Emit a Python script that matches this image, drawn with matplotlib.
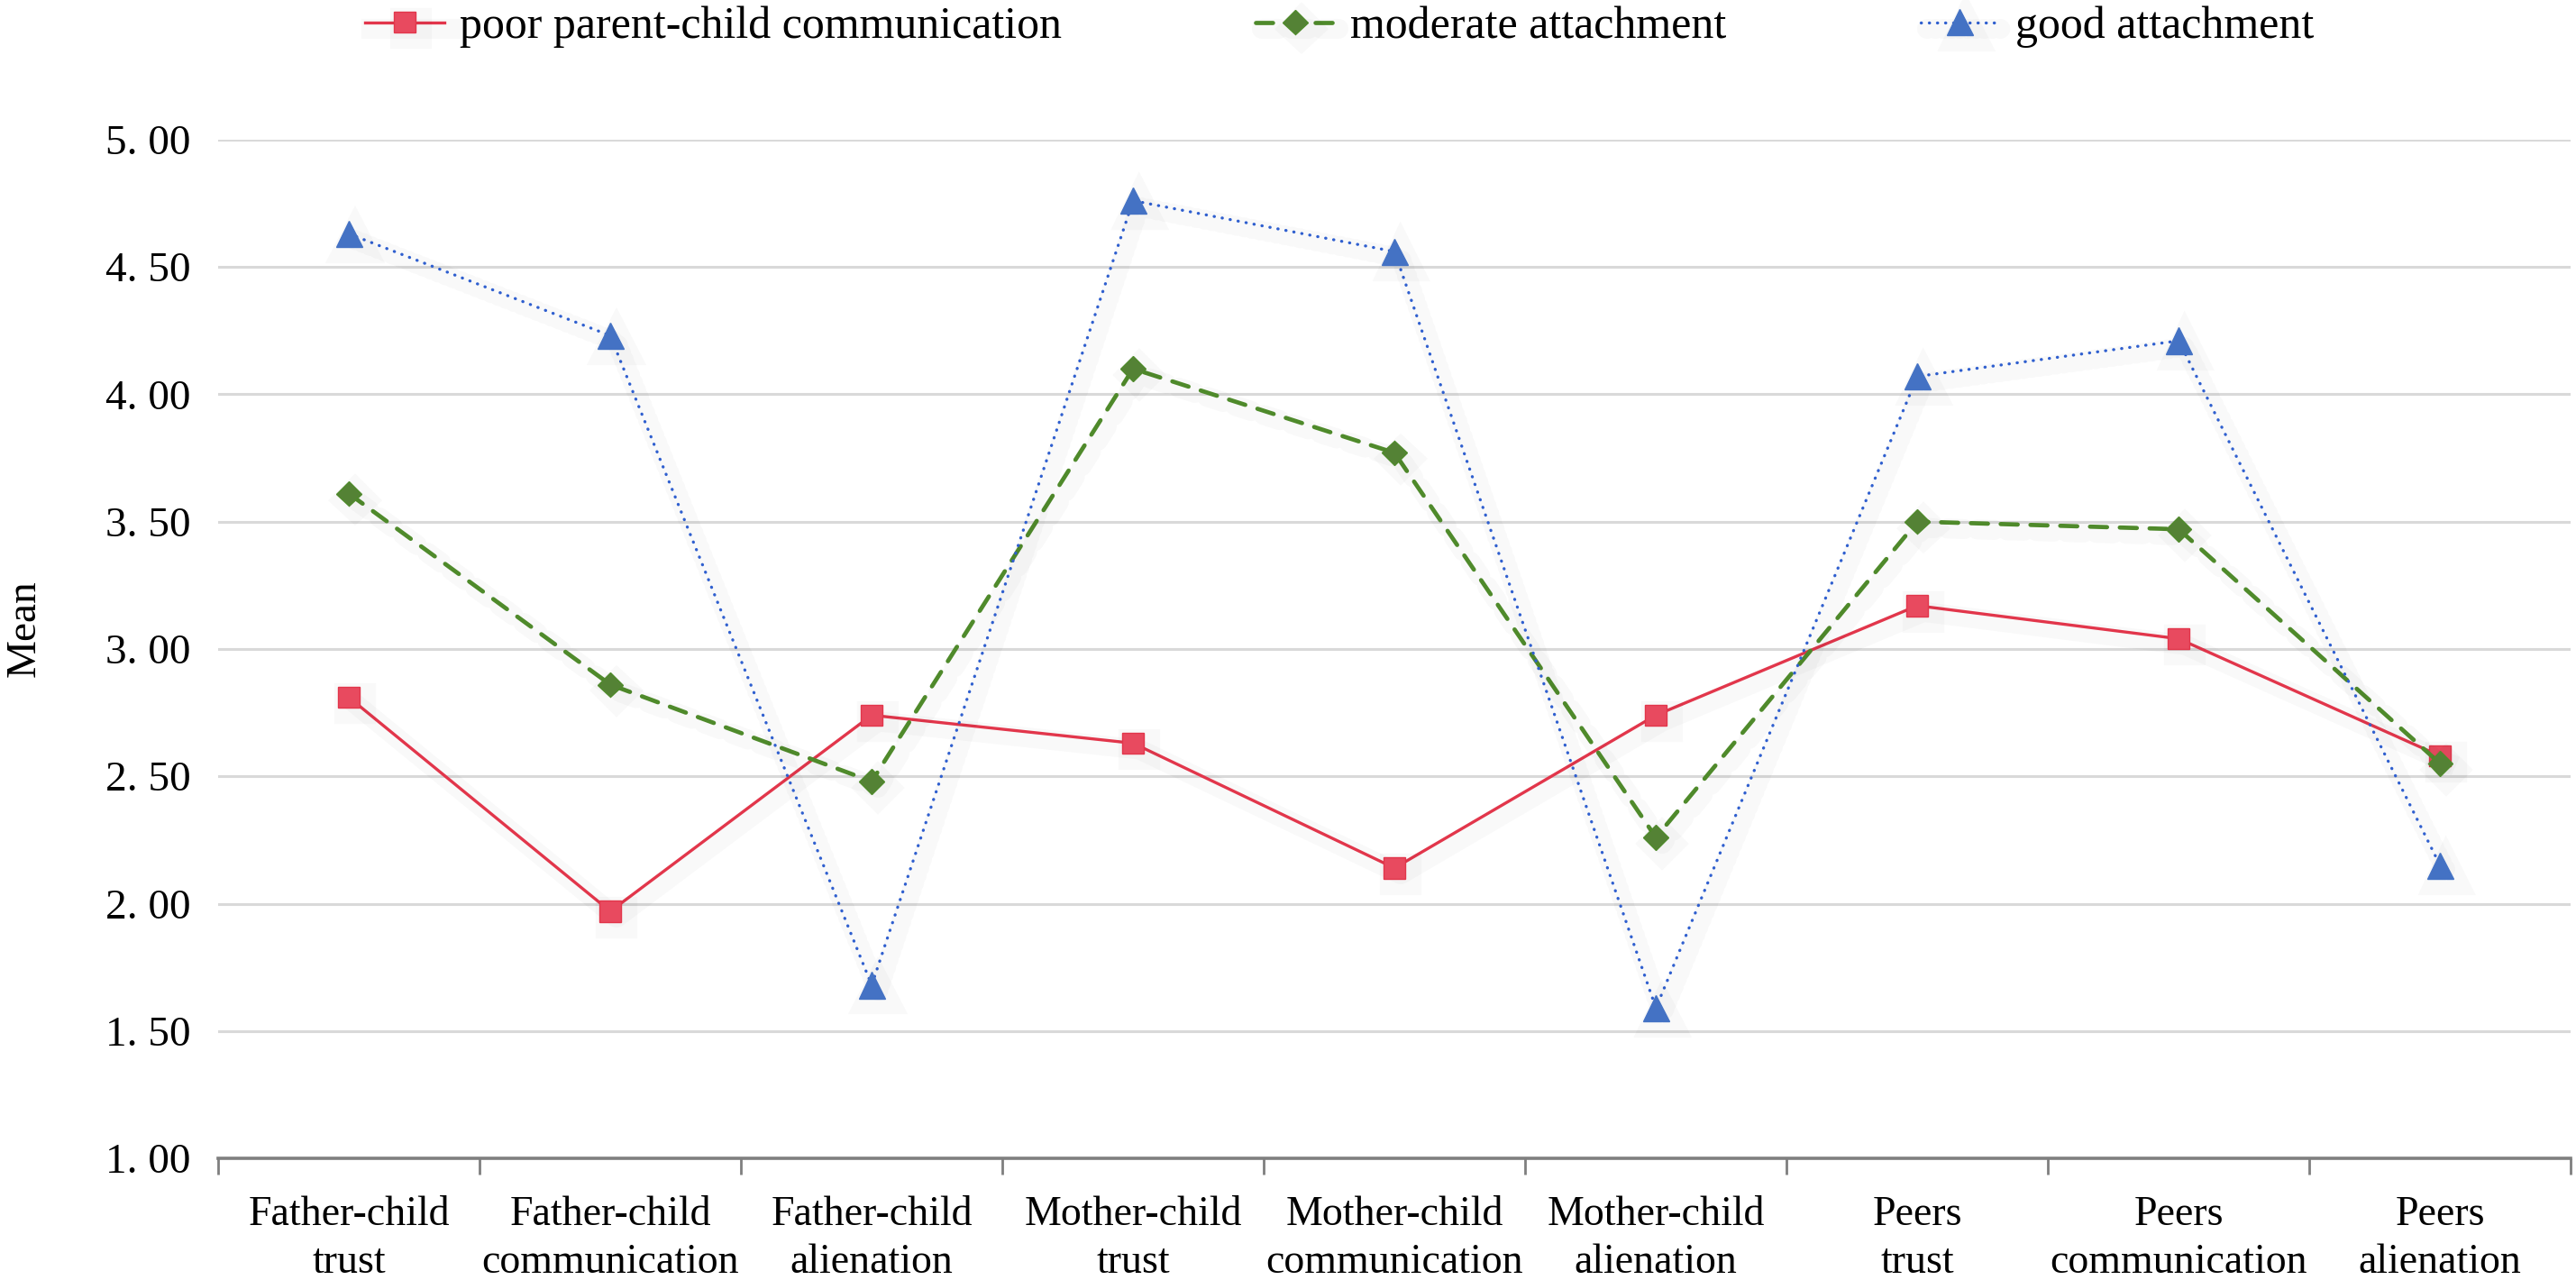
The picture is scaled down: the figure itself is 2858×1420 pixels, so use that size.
import matplotlib
matplotlib.use("Agg")
import matplotlib.pyplot as plt
import matplotlib.patheffects as pe
import numpy as np
from matplotlib.ticker import FixedLocator, FuncFormatter, NullFormatter

# data
categories = [
    "Father-child\ntrust", "Father-child\ncommunication", "Father-child\nalienation",
    "Mother-child\ntrust", "Mother-child\ncommunication", "Mother-child\nalienation",
    "Peers\ntrust", "Peers\ncommunication", "Peers\nalienation",
]
poor = [2.81, 1.97, 2.74, 2.63, 2.14, 2.74, 3.17, 3.04, 2.58]
moderate = [3.61, 2.86, 2.48, 4.10, 3.77, 2.26, 3.50, 3.47, 2.55]
good = [4.63, 4.23, 1.68, 4.76, 4.56, 1.59, 4.07, 4.21, 2.15]
series_names = ["poor parent-child communication", "moderate attachment", "good attachment"]

plt.rcParams['font.family'] = ['Liberation Serif', 'DejaVu Serif']
FS = 33

fig = plt.figure(figsize=(28.58, 14.20), dpi=100)
ax = fig.add_axes([0.0847, 0.095, 0.9133, 0.796])

x = np.arange(len(categories))
shadow = [pe.SimpleLineShadow(offset=(5, -5), shadow_color='#000000', alpha=0.025, linewidth=16), pe.Normal()]

ax.plot(x, poor, color='#e2364b', lw=2.4, marker='s', markersize=17,
        markerfacecolor='#e84a5f', markeredgecolor='#e2364b', markeredgewidth=1,
        label=series_names[0], path_effects=shadow, zorder=4)
ax.plot(x, moderate, color='#4f8a2b', lw=3.4, ls=(0, (4, 3)), dash_capstyle='round',
        marker='D', markersize=14, markerfacecolor='#548235', markeredgecolor='#4f8a2b',
        label=series_names[1], path_effects=shadow, zorder=4)
ax.plot(x, good, color='#2f5fcf', lw=2.4, ls=(0, (0.1, 2.6)), dash_capstyle='round',
        marker='^', markersize=21, markerfacecolor='#4472c4', markeredgecolor='#4472c4',
        label=series_names[2], path_effects=shadow, zorder=4)

ax.set_xlim(-0.5, len(categories) - 0.5)
ax.set_ylim(1, 5)
ax.set_yticks(np.arange(1, 5.01, 0.5))
ax.yaxis.set_major_formatter(FuncFormatter(lambda v, p: f"{v:.2f}".replace('.', '. ')))
ax.grid(axis='y', color='#d9d9d9', lw=2.2)
ax.set_axisbelow(True)

ax.xaxis.set_major_locator(FixedLocator(np.arange(-0.5, len(categories), 1.0)))
ax.xaxis.set_major_formatter(NullFormatter())
ax.xaxis.set_minor_locator(FixedLocator(x))
ax.set_xticklabels(categories, minor=True, fontsize=FS, linespacing=1.3)
ax.tick_params(axis='x', which='major', length=13, width=2, color='#7f7f7f', direction='out')
ax.tick_params(axis='x', which='minor', length=0, pad=30)
ax.tick_params(axis='y', length=0, pad=22, labelsize=FS + 1)

for s in ['top', 'right', 'left']:
    ax.spines[s].set_visible(False)
ax.spines['bottom'].set_color('#7f7f7f')
ax.spines['bottom'].set_linewidth(2.6)

ax.set_ylabel("Mean", fontsize=FS + 1)
ax.yaxis.set_label_coords(-0.074, 0.52)

fig.legend(loc='center', bbox_to_anchor=(0.52, 0.979), ncol=3, frameon=False,
           fontsize=36, handlelength=1.75, handletextpad=0.35, columnspacing=4.3)

fig.savefig("out.png", dpi=100, facecolor='white')
